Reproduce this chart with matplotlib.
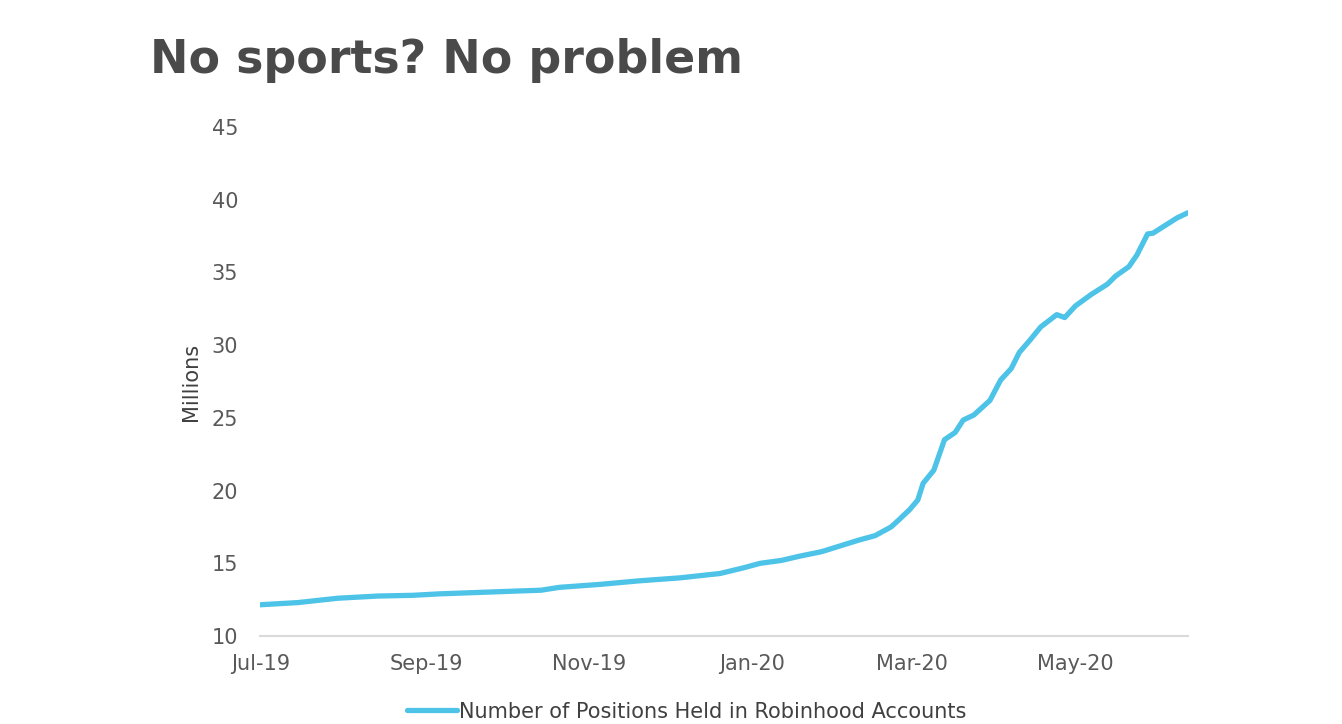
import numpy as np
import pandas as pd
import matplotlib
matplotlib.use("Agg")
import matplotlib.pyplot as plt
import matplotlib.dates as mdates

# Данні, млн позицій
dates = ["2019-07-01", "2019-07-15", "2019-07-30", "2019-08-14", "2019-08-27",
         "2019-09-06", "2019-09-21", "2019-10-06", "2019-10-14", "2019-10-21",
         "2019-11-05", "2019-11-20", "2019-12-05", "2019-12-20", "2019-12-29",
         "2020-01-04", "2020-01-12", "2020-01-19", "2020-01-27", "2020-02-03",
         "2020-02-10", "2020-02-16", "2020-02-22", "2020-02-25", "2020-02-29",
         "2020-03-03", "2020-03-05", "2020-03-09", "2020-03-13", "2020-03-17",
         "2020-03-20", "2020-03-24", "2020-03-30", "2020-04-03", "2020-04-07",
         "2020-04-10", "2020-04-14", "2020-04-18", "2020-04-24", "2020-04-27",
         "2020-05-01", "2020-05-07", "2020-05-13", "2020-05-16", "2020-05-21",
         "2020-05-24", "2020-05-28", "2020-05-30", "2020-06-02", "2020-06-08",
         "2020-06-12"]
positions = [12.15, 12.3, 12.6, 12.75, 12.8,
             12.9, 13.0, 13.1, 13.15, 13.35,
             13.55, 13.8, 14.0, 14.3, 14.7,
             15.0, 15.2, 15.5, 15.8, 16.2,
             16.6, 16.9, 17.5, 18.0, 18.7,
             19.35, 20.5, 21.4, 23.5, 24.0,
             24.85, 25.2, 26.2, 27.6, 28.4,
             29.5, 30.35, 31.25, 32.1, 31.9,
             32.7, 33.5, 34.2, 34.75, 35.4,
             36.2, 37.65, 37.7, 38.05, 38.75,
             39.1]
series_name = "Number of Positions Held in Robinhood Accounts"
title = "No sports? No problem"

x = pd.to_datetime(dates)

fig = plt.figure(figsize=(13.42, 7.24), dpi=100)
ax = fig.add_axes([0.194, 0.1215, 0.691, 0.703])

ax.plot(x, positions, color="#4EC3E8", linewidth=3.8, solid_capstyle="round",
        solid_joinstyle="round", label=series_name)

# Оформлення осей
ax.set_ylim(10, 45)
ax.set_yticks(np.arange(10, 46, 5))
ax.set_xlim(pd.Timestamp("2019-07-01"), x[-1])
ax.xaxis.set_major_locator(mdates.MonthLocator(interval=2))
ax.xaxis.set_major_formatter(mdates.DateFormatter("%b-%y"))

for s in ["top", "right", "left"]:
    ax.spines[s].set_visible(False)
ax.spines["bottom"].set_color("#d9d9d9")
ax.spines["bottom"].set_linewidth(1.5)
ax.tick_params(axis="both", length=0, labelsize=15, labelcolor="#595959")
ax.tick_params(axis="y", pad=16)
ax.tick_params(axis="x", pad=13)
ax.set_ylabel("Millions", fontsize=15, color="#404040", labelpad=8)

fig.text(0.112, 0.917, title, fontsize=33, fontweight="bold", color="#4a4a4a",
         family="DejaVu Sans", va="center", ha="left")

fig.legend(loc="center", bbox_to_anchor=(0.512, 0.017), frameon=False,
           fontsize=15, labelcolor="#404040", handlelength=2.4, handletextpad=0.1)

fig.savefig("out.png", dpi=100)
